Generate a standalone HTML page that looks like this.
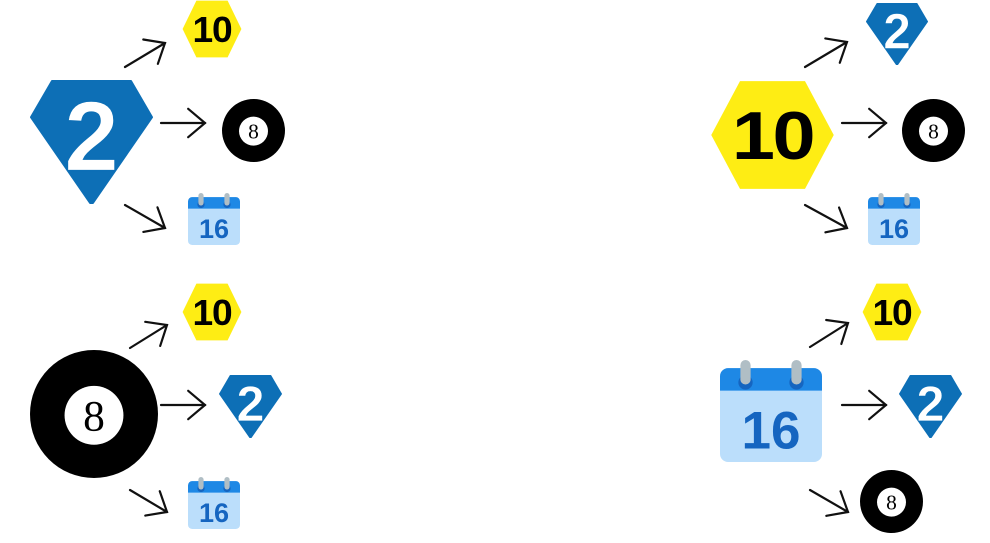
<!DOCTYPE html>
<html><head><meta charset="utf-8">
<style>
html,body{margin:0;padding:0;background:#fff;width:990px;height:543px;overflow:hidden}
svg{display:block}
</style></head>
<body>
<svg id="root" width="990" height="543" viewBox="0 0 990 543" xmlns="http://www.w3.org/2000/svg"></svg>
<script>
const icons = {
  diamond: (n)=>`<svg viewBox="0 0 100 100" preserveAspectRatio="none" XYWH>
    <polygon points="18,1 82,1 99,30 51,99 49,99 1,30" fill="#0D6FB6" stroke="#0D6FB6" stroke-width="2" stroke-linejoin="round"/>
    <text x="50" y="73" text-anchor="middle" font-family="Liberation Sans, sans-serif" font-weight="bold" font-size="80" fill="#fff" stroke="#0D6FB6" stroke-width="1">2</text></svg>`,
  hex: (n)=>`<svg viewBox="0 0 100 100" preserveAspectRatio="none" XYWH>
    <polygon points="1,50 24,1 76,1 99,50 76,99 24,99" fill="#FEED14"/>
    <text x="50" y="72" text-anchor="middle" font-family="Liberation Sans, sans-serif" font-weight="bold" font-size="62" letter-spacing="-2" fill="#000">10</text></svg>`,
  ball: (n)=>`<svg viewBox="0 0 100 100" XYWH>
    <circle cx="50" cy="50" r="50" fill="#000"/><circle cx="50" cy="51" r="23" fill="#fff"/>
    <text x="50" y="63" text-anchor="middle" font-family="Liberation Serif, serif" font-size="34" fill="#000">8</text></svg>`,
  cal: (n)=>`<svg viewBox="0 0 100 100" XYWH>
    <rect x="0" y="8" width="100" height="92" rx="8" fill="#BBDEFB"/>
    <path d="M8,8 H92 A8,8 0 0 1 100,16 V30 H0 V16 A8,8 0 0 1 8,8Z" fill="#1E88E5"/>
    <circle cx="25" cy="22" r="7" fill="#1565C0"/><circle cx="75" cy="22" r="7" fill="#1565C0"/>
    <rect x="20" y="0" width="10" height="24" rx="5" fill="#B0BEC5"/><rect x="70" y="0" width="10" height="24" rx="5" fill="#B0BEC5"/>
    <text x="50" y="87" text-anchor="middle" font-family="Liberation Sans, sans-serif" font-weight="bold" font-size="52" fill="#1565C0">16</text></svg>`
};
function place(type,name,x,y,w,h){return icons[type](name).replace('XYWH',`x="${x}" y="${y}" width="${w}" height="${h}"`);}
function arrow(name,x1,y1,x2,y2){
  const a=Math.atan2(y2-y1,x2-x1),L=22,s=0.7;
  const p1=[x2-L*Math.cos(a-s),y2-L*Math.sin(a-s)],p2=[x2-L*Math.cos(a+s),y2-L*Math.sin(a+s)];
  return `<g stroke="#111" stroke-width="2.2" fill="none" stroke-linecap="round"><line x1="${x1}" y1="${y1}" x2="${x2}" y2="${y2}"/><polyline points="${p1[0]},${p1[1]} ${x2},${y2} ${p2[0]},${p2[1]}"/></g>`;
}
let h='';
h+=place('diamond','diamond-2-source',30,80,123,124);
h+=arrow('arrow-tl-up',125,67,165,43)+arrow('arrow-tl-right',161,123,205,123)+arrow('arrow-tl-down',125,205,165,228);
h+=place('hex','hexagon-10-target',182,0,60,58)+place('ball','eight-ball-target',222,99,63,63)+place('cal','calendar-16-target',188,193,52,52);
h+=place('hex','hexagon-10-source',710,80,125,110);
h+=arrow('arrow-tr-up',805,67,847,42)+arrow('arrow-tr-right',842,123,886,123)+arrow('arrow-tr-down',805,205,847,228);
h+=place('diamond','diamond-2-target',866,3,62,62)+place('ball','eight-ball-target',902,99,63,63)+place('cal','calendar-16-target',868,193,52,52);
h+=place('ball','eight-ball-source',30,350,128,128);
h+=arrow('arrow-bl-up',130,348,167,325)+arrow('arrow-bl-right',161,405,205,405)+arrow('arrow-bl-down',130,490,167,512);
h+=place('hex','hexagon-10-target',182,283,60,58)+place('diamond','diamond-2-target',219,375,63,63)+place('cal','calendar-16-target',188,477,52,52);
h+=place('cal','calendar-16-source',720,358,102,106);
h+=arrow('arrow-br-up',810,347,848,323)+arrow('arrow-br-right',842,405,886,405)+arrow('arrow-br-down',810,490,848,512);
h+=place('hex','hexagon-10-target',862,283,60,58)+place('diamond','diamond-2-target',899,375,63,63)+place('ball','eight-ball-target',860,470,63,63);
document.getElementById('root').innerHTML=h;
</script>
</body></html>
